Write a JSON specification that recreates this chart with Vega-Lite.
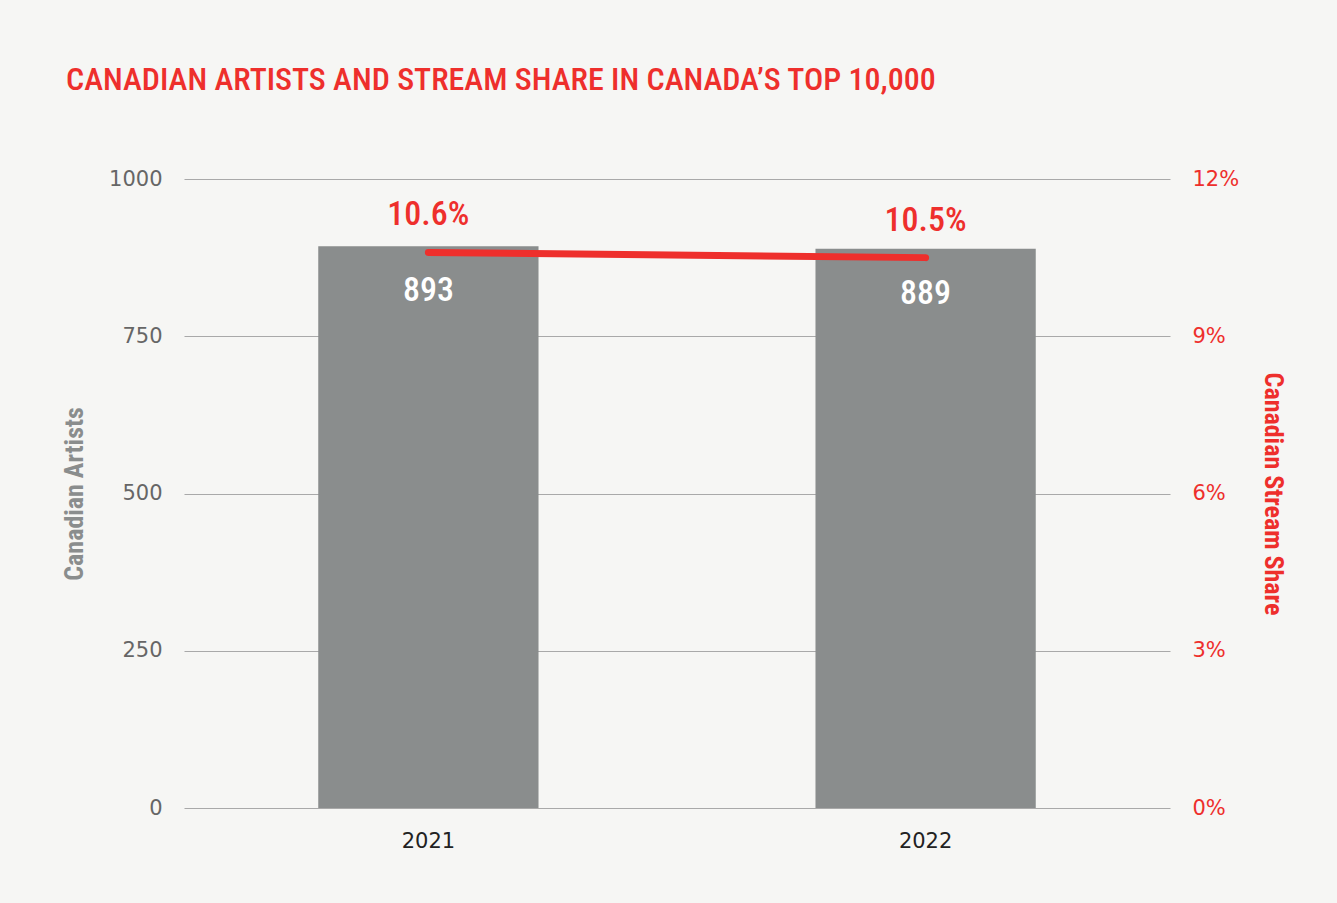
{
  "$schema": "https://vega.github.io/schema/vega-lite/v6.json",
  "autosize": {"type": "none"},
  "width": 986,
  "height": 629,
  "padding": {"left": 184, "top": 179, "right": 167, "bottom": 95},
  "background": "#f6f6f4",
  "config": {
    "view": {"stroke": null},
    "axis": {"labelFont": "DejaVu Sans", "titleFont": "Roboto Condensed, Roboto, sans-serif"}
  },
  "title": {
    "text": "CANADIAN ARTISTS AND STREAM SHARE IN CANADA’S TOP 10,000",
    "anchor": "start",
    "frame": "group",
    "dx": -118,
    "offset": 71,
    "font": "Roboto Condensed, Roboto, sans-serif",
    "fontSize": 32,
    "fontWeight": 500,
    "color": "#ee2f2c"
  },
  "data": {
    "values": [
      {"year": "2021", "artists": 893, "share": 0.106},
      {"year": "2022", "artists": 889, "share": 0.105}
    ]
  },
  "layer": [
    {
      "encoding": {
        "x": {
          "field": "year", "type": "nominal",
          "scale": {"paddingInner": 0.557, "paddingOuter": 0.27},
          "axis": {"title": null, "labelAngle": 0, "domain": false, "ticks": false,
                   "labelFontSize": 21, "labelColor": "#222222", "labelPadding": 22}
        },
        "y": {
          "field": "artists", "type": "quantitative",
          "scale": {"domain": [0, 1000], "nice": false},
          "axis": {"title": "Canadian Artists", "values": [0, 250, 500, 750, 1000], "format": "d",
                   "domain": false, "ticks": false, "grid": true, "gridColor": "#a9a9a9", "gridWidth": 1,
                   "labelFontSize": 21, "labelColor": "#666666", "labelPadding": 22,
                   "titleFontSize": 26, "titleFontWeight": "bold", "titleColor": "#8a8d8d", "titlePadding": 21}
        }
      },
      "layer": [
        {"mark": {"type": "bar", "color": "#8a8d8d"}},
        {
          "mark": {"type": "text", "baseline": "top", "dy": 28, "fontSize": 34, "fontWeight": 500,
                   "font": "Roboto Condensed, Roboto, sans-serif", "color": "#ffffff"},
          "encoding": {"text": {"field": "artists", "type": "quantitative"}}
        }
      ]
    },
    {
      "encoding": {
        "x": {"field": "year", "type": "nominal"},
        "y": {
          "field": "share", "type": "quantitative",
          "scale": {"domain": [0, 0.12], "nice": false},
          "axis": {"orient": "right", "title": "Canadian Stream Share", "values": [0, 0.03, 0.06, 0.09, 0.12],
                   "format": ".0%", "domain": false, "ticks": false, "grid": false,
                   "labelFontSize": 21, "labelColor": "#ee2f2c", "labelPadding": 22,
                   "titleFontSize": 26, "titleFontWeight": "bold", "titleColor": "#ee2f2c", "titlePadding": 21}
        }
      },
      "layer": [
        {"mark": {"type": "line", "color": "#ee2f2c", "strokeWidth": 7, "strokeCap": "round"}},
        {
          "mark": {"type": "text", "baseline": "alphabetic", "dy": -27, "fontSize": 34, "fontWeight": 500,
                   "font": "Roboto Condensed, Roboto, sans-serif", "color": "#ee2f2c"},
          "encoding": {"text": {"field": "share", "type": "quantitative", "format": ".1%"}}
        }
      ]
    }
  ],
  "resolve": {"scale": {"y": "independent"}}
}
